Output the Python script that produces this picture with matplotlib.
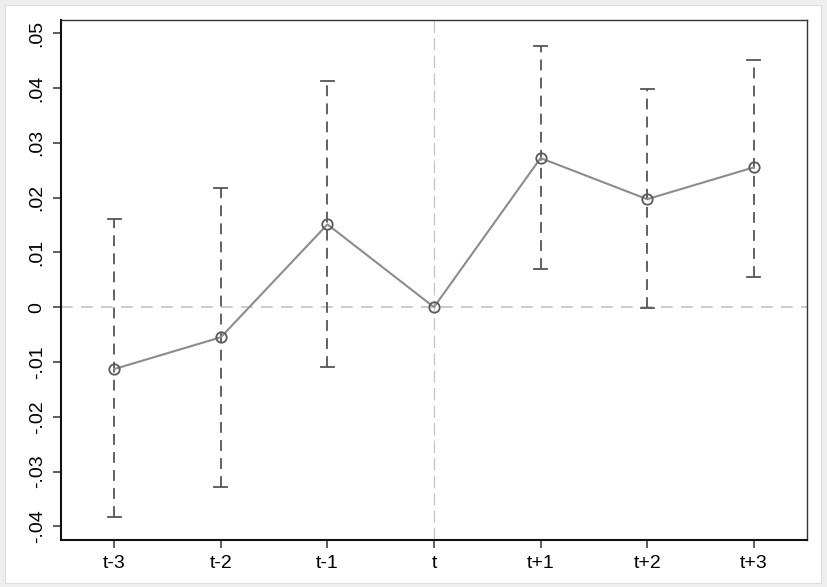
import matplotlib
matplotlib.use("Agg")
import matplotlib.pyplot as plt
from matplotlib.patches import Rectangle

periods = ["t-3", "t-2", "t-1", "t", "t+1", "t+2", "t+3"]
coef = [-0.0113, -0.0055, 0.0151, 0.0, 0.0272, 0.0197, 0.0255]
ci_low = [-0.0383, -0.0328, -0.0109, None, 0.0069, -0.0002, 0.0055]
ci_high = [0.0161, 0.0217, 0.0412, None, 0.0476, 0.0398, 0.0451]
yticks = [-0.04, -0.03, -0.02, -0.01, 0, 0.01, 0.02, 0.03, 0.04, 0.05]
ytick_labels = ["-.04", "-.03", "-.02", "-.01", "0", ".01", ".02", ".03", ".04", ".05"]

plt.rcParams['font.family'] = ['Liberation Sans', 'DejaVu Sans']

fig = plt.figure(figsize=(8.28, 5.87), dpi=100, facecolor='#eeeeee')
fig.patches.append(Rectangle((5/828, 0.006), 816/828, 0.986, transform=fig.transFigure,
                             facecolor='white', edgecolor='#dddddd', lw=0.8, zorder=-10))
ax = fig.add_axes([61/828, 1 - 540/587, (807 - 61)/828, (540 - 20)/587])
ax.set_facecolor('white')

x = list(range(len(periods)))
t_idx = periods.index("t")

ax.axhline(0, color='#c4c4c4', lw=1.2, ls=(0, (7, 5)), zorder=1)
ax.axvline(x[t_idx], color='#c4c4c4', lw=0.9, ls=(0, (10, 4)), zorder=1)

for xi, lo, hi in zip(x, ci_low, ci_high):
    if lo is None:
        continue
    ax.plot([xi, xi], [lo, hi], color='#555555', lw=1.3, ls=(0, (6, 4)), zorder=2)
    ax.plot([xi - 0.06, xi + 0.06], [lo, lo], color='#555555', lw=1.3, zorder=2)
    ax.plot([xi - 0.06, xi + 0.06], [hi, hi], color='#555555', lw=1.3, zorder=2)

ax.plot(x, coef, color='#8c8c8c', lw=1.5, marker='o', markersize=7.5,
        markerfacecolor='none', markeredgecolor='#5a5a5a', markeredgewidth=1.3, zorder=3)

ax.set_xlim(-0.5, len(periods) - 0.5)
ax.set_ylim(-0.0425, 0.0524)
ax.set_xticks(x)
ax.set_xticklabels(periods, fontsize=14)
ax.set_yticks(yticks)
ax.set_yticklabels(ytick_labels, fontsize=14, rotation=90, va='center')
ax.tick_params(axis='both', length=6, width=1.1, color='#333333', pad=5)

for side in ['left', 'bottom']:
    ax.spines[side].set_linewidth(1.5)
    ax.spines[side].set_color('#111111')
for side in ['top', 'right']:
    ax.spines[side].set_linewidth(1.0)
    ax.spines[side].set_color('#333333')

fig.savefig("out.png", dpi=100, facecolor=fig.get_facecolor())
